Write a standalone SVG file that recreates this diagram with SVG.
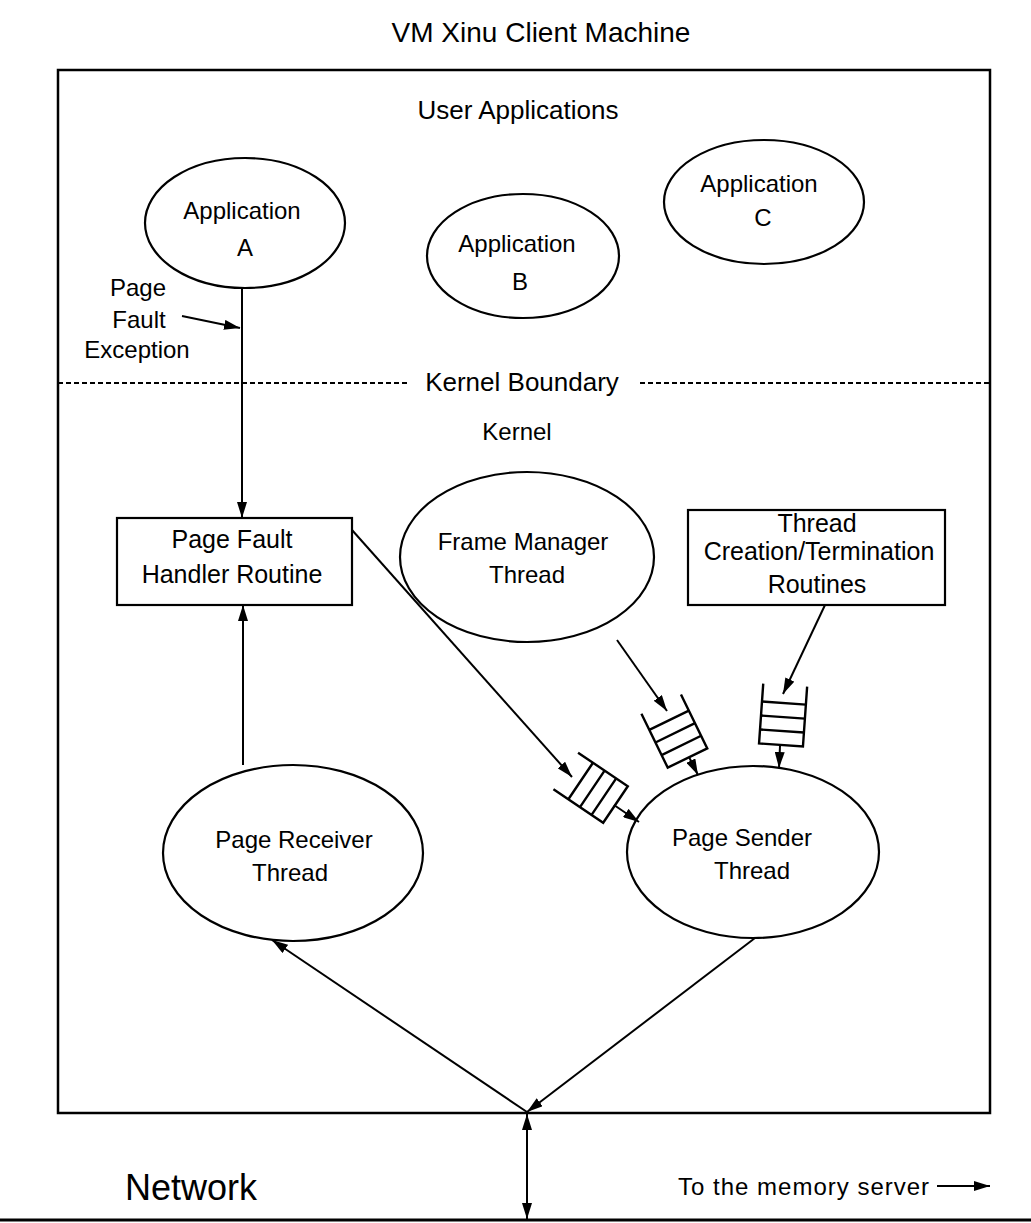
<svg xmlns="http://www.w3.org/2000/svg" width="1031" height="1223" viewBox="0 0 1031 1223">
  <style>
    text { font-family: "Liberation Sans", Arial, sans-serif; fill: #000; text-anchor: middle; }
    .lbl { font-size: 24px; }
    .mid { font-size: 25px; }
    .big { font-size: 26px; }
    .title { font-size: 28px; }
    .shape { fill: #fff; stroke: #000; stroke-width: 2.2; }
    .edge { fill: none; stroke: #000; stroke-width: 2; }
    .q { fill: none; stroke: #000; stroke-width: 2.4; }
  </style>
  <defs>
    <marker id="ah" viewBox="0 0 16 10" refX="16" refY="5" markerWidth="16" markerHeight="10" orient="auto-start-reverse" markerUnits="userSpaceOnUse">
      <path d="M0,0 L16,5 L0,10 z" fill="#000"/>
    </marker>
    <!-- message queue: closed end at origin, open end toward -y -->
    <g id="queue">
      <path class="q" d="M-22,-60 L-22,0 L22,0 L22,-60"/>
      <path class="q" d="M-22,-14 L22,-14 M-22,-28 L22,-28 M-22,-42 L22,-42"/>
    </g>
  </defs>

  <rect width="1031" height="1223" fill="#fff"/>

  <text class="title" x="541" y="42">VM Xinu Client Machine</text>

  <!-- machine frame -->
  <rect x="58" y="70" width="932" height="1043" fill="none" stroke="#000" stroke-width="2.5"/>

  <text class="big" x="518" y="119">User Applications</text>

  <!-- kernel boundary -->
  <g id="boundary">
    <path d="M58,383 L407,383 M640,383 L990,383" fill="none" stroke="#000" stroke-width="2" stroke-dasharray="5 3"/>
    <text class="big" x="522" y="391">Kernel Boundary</text>
  </g>
  <text class="lbl" x="517" y="440">Kernel</text>

  <!-- network -->
  <line x1="0" y1="1220" x2="1031" y2="1220" stroke="#000" stroke-width="3"/>
  <text x="191" y="1200" style="font-size:36px">Network</text>
  <text x="678" y="1195" style="font-size:24px;text-anchor:start;letter-spacing:1px">To the memory server</text>

  <g id="appA">
    <ellipse class="shape" cx="245" cy="223" rx="100" ry="65"/>
    <text class="lbl" x="242" y="219">Application</text>
    <text class="lbl" x="245" y="256">A</text>
  </g>
  <g id="appB">
    <ellipse class="shape" cx="523" cy="256" rx="96" ry="62"/>
    <text class="lbl" x="517" y="252">Application</text>
    <text class="lbl" x="520" y="290">B</text>
  </g>
  <g id="appC">
    <ellipse class="shape" cx="764" cy="202" rx="100" ry="62"/>
    <text class="lbl" x="759" y="192">Application</text>
    <text class="lbl" x="763" y="226">C</text>
  </g>

  <g id="faultLabel">
    <text class="lbl" x="138" y="296">Page</text>
    <text class="lbl" x="139" y="328">Fault</text>
    <text class="lbl" x="137" y="358">Exception</text>
  </g>

  <g id="handler">
    <rect class="shape" x="117" y="518" width="235" height="87"/>
    <text class="mid" x="232" y="548">Page Fault</text>
    <text class="mid" x="232" y="583">Handler Routine</text>
  </g>

  <g id="frameManager">
    <ellipse class="shape" cx="527" cy="557" rx="127" ry="85"/>
    <text class="lbl" x="523" y="550">Frame Manager</text>
    <text class="lbl" x="527" y="583">Thread</text>
  </g>

  <g id="threadRoutines">
    <rect class="shape" x="688" y="510" width="257" height="95"/>
    <text class="mid" x="817" y="532">Thread</text>
    <text class="mid" x="819" y="560">Creation/Termination</text>
    <text class="mid" x="817" y="593">Routines</text>
  </g>

  <g id="receiver">
    <ellipse class="shape" cx="293" cy="853" rx="130" ry="88"/>
    <text class="lbl" x="294" y="848">Page Receiver</text>
    <text class="lbl" x="290" y="881">Thread</text>
  </g>

  <g id="sender">
    <ellipse class="shape" cx="753" cy="852" rx="126" ry="86"/>
    <text class="lbl" x="742" y="846">Page Sender</text>
    <text class="lbl" x="752" y="879">Thread</text>
  </g>

  <g id="queue1"><use href="#queue" transform="translate(615.5,804.5) rotate(-56)"/></g>
  <g id="queue2"><use href="#queue" transform="translate(687.5,758) rotate(-26)"/></g>
  <g id="queue3"><use href="#queue" transform="translate(781,745) rotate(4)"/></g>

  <g id="connectors">
    <line class="edge" x1="242" y1="288" x2="242" y2="518" marker-end="url(#ah)"/>
    <line class="edge" x1="182" y1="316" x2="240" y2="328" marker-end="url(#ah)"/>
    <line class="edge" x1="243" y1="765" x2="243" y2="605" marker-end="url(#ah)"/>
    <line class="edge" x1="352" y1="530" x2="572" y2="777" marker-end="url(#ah)"/>
    <line class="edge" x1="617" y1="640" x2="667" y2="711" marker-end="url(#ah)"/>
    <line class="edge" x1="825" y1="605" x2="783" y2="694" marker-end="url(#ah)"/>
    <line class="edge" x1="614" y1="805" x2="639" y2="822" marker-end="url(#ah)"/>
    <line class="edge" x1="689" y1="757" x2="698" y2="775" marker-end="url(#ah)"/>
    <line class="edge" x1="780" y1="746" x2="779" y2="768" marker-end="url(#ah)"/>
    <line class="edge" x1="755" y1="938" x2="527" y2="1112" marker-end="url(#ah)"/>
    <line class="edge" x1="527" y1="1112" x2="272" y2="940" marker-end="url(#ah)"/>
    <line class="edge" x1="527" y1="1114" x2="527" y2="1219" marker-start="url(#ah)" marker-end="url(#ah)"/>
    <line class="edge" x1="937" y1="1186" x2="990" y2="1186" marker-end="url(#ah)"/>
  </g>
</svg>
